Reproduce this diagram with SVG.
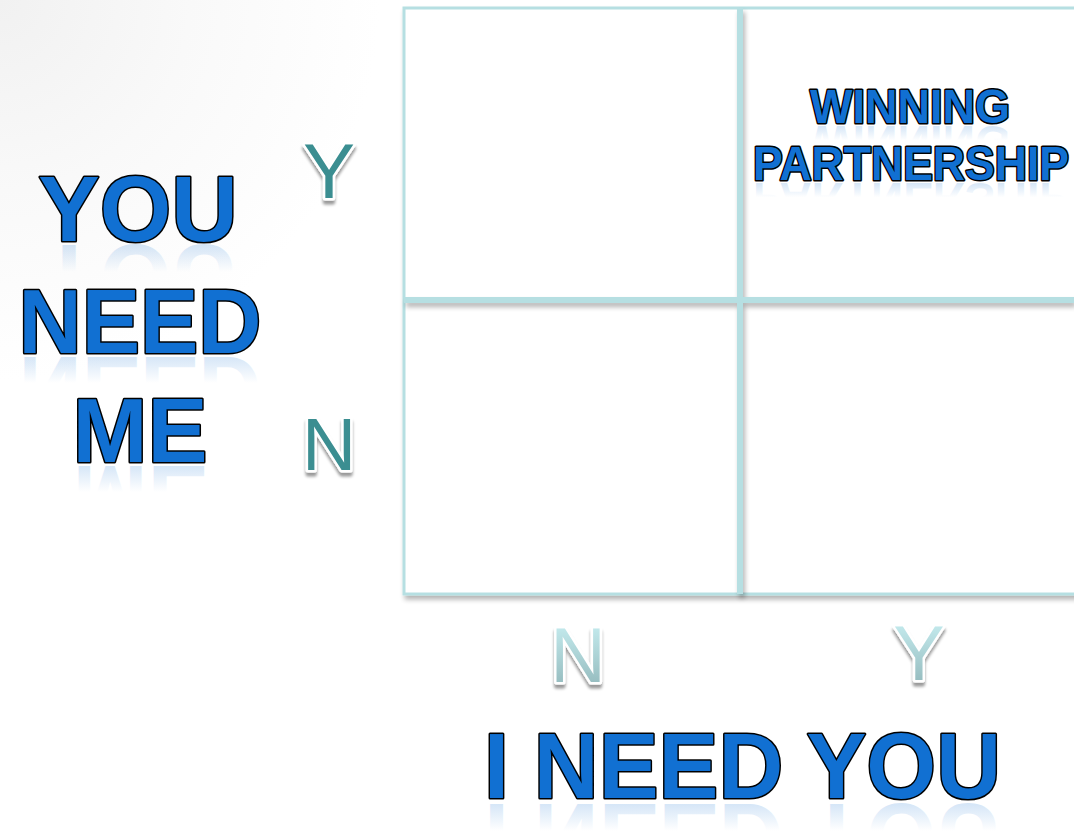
<svg xmlns="http://www.w3.org/2000/svg" width="1074" height="833" viewBox="0 0 1074 833">
  <defs>
    <style>
      .big { font-family: "Liberation Sans", Arial, sans-serif; font-weight: bold; fill: #1170d2; stroke: #000; stroke-width: 3; paint-order: stroke; stroke-linejoin: round; text-anchor: middle; }
      .refl { font-family: "Liberation Sans", Arial, sans-serif; font-weight: bold; fill: url(#reflGrad); text-anchor: middle; }
      .side { font-family: "Liberation Sans", Arial, sans-serif; font-weight: normal; fill: #3b8e91; stroke: #fff; stroke-width: 5; paint-order: stroke; stroke-linejoin: round; text-anchor: middle; filter: url(#lblShadow); }
      .bot { font-family: "Liberation Sans", Arial, sans-serif; font-weight: normal; fill: url(#botGrad); stroke: #fff; stroke-width: 5; paint-order: stroke; stroke-linejoin: round; text-anchor: middle; filter: url(#lblShadow); }
      .gridline { stroke: #b6dfe2; fill: none; }
    </style>
    <linearGradient id="reflGrad" x1="0" y1="0" x2="0" y2="1">
      <stop offset="0" stop-color="#1170d2" stop-opacity="0"/>
      <stop offset="0.55" stop-color="#1170d2" stop-opacity="0"/>
      <stop offset="1" stop-color="#1170d2" stop-opacity="0.3"/>
    </linearGradient>
    <linearGradient id="botGrad" x1="0" y1="0" x2="0" y2="1">
      <stop offset="0" stop-color="#cdf4f7"/>
      <stop offset="1" stop-color="#8cb2b5"/>
    </linearGradient>
    <radialGradient id="bgGrad" cx="0" cy="0" r="380" gradientUnits="userSpaceOnUse">
      <stop offset="0" stop-color="#f1f1f1"/>
      <stop offset="0.5" stop-color="#f9f9f9"/>
      <stop offset="1" stop-color="#ffffff"/>
    </radialGradient>
    <filter id="gridShadow" x="-5%" y="-5%" width="110%" height="110%">
      <feGaussianBlur in="SourceAlpha" stdDeviation="2.5"/>
      <feOffset dx="2" dy="4" result="b"/>
      <feComponentTransfer><feFuncA type="linear" slope="0.3"/></feComponentTransfer>
      <feMerge><feMergeNode/><feMergeNode in="SourceGraphic"/></feMerge>
    </filter>
    <filter id="lblShadow" x="-20%" y="-20%" width="140%" height="150%">
      <feGaussianBlur in="SourceAlpha" stdDeviation="1.5"/>
      <feOffset dx="0" dy="4"/>
      <feComponentTransfer><feFuncA type="linear" slope="0.4"/></feComponentTransfer>
      <feMerge><feMergeNode/><feMergeNode in="SourceGraphic"/></feMerge>
    </filter>
  </defs>

  <rect width="1074" height="833" fill="#ffffff"/>
  <rect width="1074" height="833" fill="url(#bgGrad)"/>

  <g id="grid" filter="url(#gridShadow)">
    <rect x="404" y="8" width="690" height="586" fill="#ffffff"/>
    <rect class="gridline" x="404" y="8" width="690" height="586" stroke-width="3"/>
  </g>
  <g id="connectors" filter="url(#gridShadow)">
    <line class="gridline" x1="740" y1="8" x2="740" y2="594" stroke-width="6"/>
    <line class="gridline" x1="404" y1="300" x2="1074" y2="300" stroke-width="6"/>
  </g>

  <g id="you-need-me">
    <text class="refl" x="138" y="-245" font-size="92" transform="scale(1,-1)">YOU</text>
    <text class="refl" x="140" y="-357" font-size="90" transform="scale(1,-1)" textLength="243" lengthAdjust="spacingAndGlyphs">NEED</text>
    <text class="refl" x="140" y="-466" font-size="90" transform="scale(1,-1)">ME</text>
    <text class="big" x="138" y="241" font-size="92">YOU</text>
    <text class="big" x="140" y="353" font-size="90" textLength="243" lengthAdjust="spacingAndGlyphs">NEED</text>
    <text class="big" x="140" y="462" font-size="90">ME</text>
  </g>

  <g id="label-y-left">
    <text class="side" x="329" y="198" font-size="78">Y</text>
  </g>
  <g id="label-n-left">
    <text class="side" x="329" y="470" font-size="75">N</text>
  </g>
  <g id="label-n-bottom">
    <text class="bot" x="578" y="682" font-size="77">N</text>
  </g>
  <g id="label-y-bottom">
    <text class="bot" x="919" y="680" font-size="77">Y</text>
  </g>

  <g id="i-need-you">
    <text class="refl" x="742.5" y="-804" font-size="92" transform="scale(1,-1)" textLength="517" lengthAdjust="spacingAndGlyphs">I NEED YOU</text>
    <text class="big" x="742.5" y="798" font-size="92" textLength="517" lengthAdjust="spacingAndGlyphs">I NEED YOU</text>
  </g>

  <g id="winning-partnership">
    <text class="refl" x="910" y="-126" font-size="49" transform="scale(1,-1)" textLength="200" lengthAdjust="spacingAndGlyphs">WINNING</text>
    <text class="refl" x="911" y="-183" font-size="49" transform="scale(1,-1)" textLength="316" lengthAdjust="spacingAndGlyphs">PARTNERSHIP</text>
    <text class="big" x="910" y="123" font-size="49" stroke-width="2.5" textLength="200" lengthAdjust="spacingAndGlyphs">WINNING</text>
    <text class="big" x="911" y="180" font-size="49" stroke-width="2.5" textLength="316" lengthAdjust="spacingAndGlyphs">PARTNERSHIP</text>
  </g>
</svg>
